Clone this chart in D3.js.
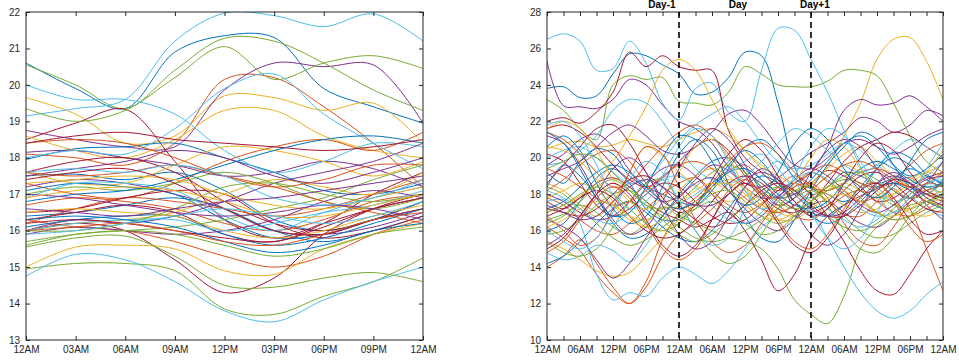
<!DOCTYPE html>
<html>
<head>
<meta charset="utf-8">
<script src="https://cdn.jsdelivr.net/npm/d3@7/dist/d3.min.js"></script>
<style>
  html, body { margin: 0; padding: 0; background: #fff; }
  svg { display: block; font-family: "Liberation Sans", Arial, sans-serif; }
  .tick text { fill: #262626; font-size: 10px; }
  .tick line { stroke: #262626; stroke-width: 1; }
  .domain { display: none; }
</style>
</head>
<body>
<svg id="chart" width="959" height="360"></svg>
<script>
// Line colours, assigned to series in turn
const palette = ["#0072BD", "#D95319", "#EDB120", "#7E2F8E", "#77AC30", "#4DBEEE", "#A2142F"];

// ---- Single day profiles (one value every 3 hours, 12AM to 12AM) ----
const dayHours = [0, 3, 6, 9, 12, 15, 18, 21, 24];
const dayTickLabels = ["12AM", "03AM", "06AM", "09AM", "12PM", "03PM", "06PM", "09PM", "12AM"];
const dayYTicks = [13, 14, 15, 16, 17, 18, 19, 20, 21, 22];
const dayProfiles = [
  [20.6, 19.9, 19.35, 20.9, 21.35, 21.3, 19.9, 19.4, 18.95],
  [18.1, 18.0, 17.8, 18.4, 20.15, 20.2, 19.4, 18.4, 17.2],
  [19.65, 19.2, 18.4, 18.6, 19.7, 19.65, 19.3, 19.5, 18.4],
  [18.75, 18.5, 18.3, 18.3, 19.86, 20.6, 20.5, 20.55, 18.95],
  [20.55, 20.0, 19.35, 20.4, 21.28, 21.2, 20.6, 19.86, 19.3],
  [19.15, 19.35, 19.6, 21.2, 21.97, 21.9, 21.6, 21.95, 21.2],
  [18.5, 18.95, 19.33, 17.9, 16.3, 15.8, 16.2, 16.6, 16.9],
  [17.95, 18.25, 18.3, 18.4, 18.0, 17.6, 17.1, 17.0, 17.3],
  [16.3, 16.1, 16.0, 15.7, 15.3, 15.0, 15.3, 15.9, 16.3],
  [18.6, 18.2, 18.0, 18.5, 19.3, 19.3, 18.6, 18.2, 18.0],
  [18.15, 18.2, 18.0, 17.8, 17.5, 17.6, 17.9, 17.7, 17.2],
  [19.35, 19.0, 19.3, 20.2, 21.05, 20.15, 20.6, 20.8, 20.45],
  [20.0, 19.6, 19.6, 19.2, 18.2, 17.6, 17.9, 18.4, 18.3],
  [16.0, 16.2, 16.0, 15.2, 14.3, 14.7, 15.9, 16.6, 17.0],
  [17.5, 17.55, 17.4, 17.6, 17.1, 16.3, 16.0, 16.3, 16.6],
  [17.3, 17.0, 16.9, 17.3, 17.9, 18.3, 18.5, 18.2, 18.7],
  [15.0, 15.55, 15.6, 15.5, 14.9, 14.8, 15.5, 15.9, 16.2],
  [17.2, 17.4, 17.3, 17.0, 16.6, 16.0, 15.9, 16.1, 16.5],
  [14.95, 15.1, 15.1, 14.9, 13.85, 13.7, 14.2, 14.6, 15.25],
  [14.75, 15.35, 15.2, 14.6, 13.8, 13.5, 14.1, 14.6, 15.0],
  [17.6, 17.9, 18.0, 17.6, 16.8, 16.2, 16.0, 16.3, 16.8],
  [16.4, 16.5, 16.7, 16.9, 16.6, 16.0, 15.7, 16.0, 16.4],
  [16.2, 16.6, 16.9, 16.8, 16.6, 16.4, 16.6, 17.0, 17.4],
  [17.6, 17.3, 17.3, 17.8, 18.3, 18.2, 17.9, 17.5, 17.9],
  [16.0, 16.3, 16.2, 16.4, 16.8, 17.3, 17.6, 17.9, 18.4],
  [15.55, 15.8, 15.85, 15.3, 14.5, 14.45, 14.7, 14.85, 14.6],
  [18.0, 18.2, 18.1, 18.8, 19.9, 20.3, 19.2, 18.4, 17.7],
  [16.3, 16.5, 16.7, 16.5, 15.9, 15.7, 16.2, 17.0, 17.6],
  [17.1, 17.3, 17.2, 17.0, 16.3, 15.8, 15.9, 16.3, 16.8],
  [16.7, 16.9, 16.8, 16.6, 16.2, 16.0, 16.3, 16.8, 17.0],
  [16.0, 16.2, 16.3, 16.5, 17.0, 17.4, 17.2, 17.0, 17.6],
  [17.5, 17.7, 17.9, 18.2, 18.0, 17.5, 17.3, 17.6, 18.0],
  [17.0, 17.2, 17.1, 17.3, 17.6, 17.3, 16.8, 16.6, 16.9],
  [16.9, 17.3, 17.3, 17.1, 16.4, 16.0, 16.5, 16.9, 17.2],
  [16.5, 16.6, 16.9, 17.1, 17.0, 16.2, 15.8, 16.0, 16.4],
  [16.1, 16.3, 16.4, 16.4, 15.9, 15.6, 15.8, 16.2, 16.6],
  [18.4, 18.5, 18.4, 18.0, 17.5, 17.2, 17.4, 17.8, 17.8],
  [16.5, 16.6, 16.5, 16.4, 16.0, 15.8, 16.0, 16.4, 16.7],
  [15.9, 16.1, 16.0, 15.9, 16.0, 16.3, 16.8, 17.1, 16.9],
  [15.6, 15.9, 16.0, 16.1, 16.3, 16.6, 16.9, 17.4, 17.8],
  [16.0, 16.2, 16.3, 16.3, 16.0, 16.2, 16.5, 16.7, 17.1],
  [16.2, 16.3, 16.2, 16.0, 15.8, 15.7, 16.1, 16.6, 16.9],
  [16.8, 17.0, 17.1, 17.4, 17.8, 18.2, 18.5, 18.6, 18.4],
  [17.6, 17.5, 17.6, 17.8, 17.5, 17.2, 16.8, 16.5, 16.2],
  [17.3, 17.4, 17.5, 17.4, 17.0, 16.7, 16.6, 16.9, 17.2],
  [17.0, 16.9, 16.7, 16.5, 16.4, 16.5, 16.7, 16.6, 16.3],
  [16.0, 16.0, 16.2, 16.6, 17.2, 17.3, 17.0, 16.8, 17.0],
  [17.6, 17.7, 17.6, 17.8, 17.5, 16.9, 16.7, 16.9, 17.4],
  [17.4, 17.6, 17.7, 17.3, 16.6, 16.0, 15.9, 16.3, 16.6],
  [16.3, 16.4, 16.3, 16.1, 15.7, 15.4, 15.6, 16.0, 16.2],
  [16.0, 16.1, 16.2, 16.0, 15.7, 15.6, 15.9, 16.3, 16.5],
  [16.9, 17.1, 17.2, 17.1, 16.8, 16.4, 16.4, 16.7, 17.0],
  [16.6, 16.5, 16.4, 16.6, 16.8, 16.9, 17.1, 17.3, 17.5],
  [15.7, 15.9, 16.0, 15.9, 15.6, 15.3, 15.5, 15.9, 16.1],
  [15.9, 16.0, 16.2, 16.4, 16.6, 16.4, 16.2, 16.4, 16.8],
  [18.4, 18.6, 18.7, 18.5, 18.4, 18.3, 18.2, 18.3, 18.5]
];

// ---- Three day profiles (one value every 3 hours over 72 hours) ----
const spanHours = d3.range(0, 73, 3);
const spanTickLabels = ["12AM", "06AM", "12PM", "06PM", "12AM", "06AM", "12PM", "06PM", "12AM", "06AM", "12PM", "06PM", "12AM"];
const spanYTicks = [10, 12, 14, 16, 18, 20, 22, 24, 26, 28];
const dayBoundaries = [24, 48];
const dayNames = ["Day-1", "Day", "Day+1"];
const dayNameHours = [20.9, 34.7, 48.7];
const spanProfiles = [
  [23.8, 23.9, 23.3, 23.4, 24.6, 25.7, 25.6, 25.1, 24.6, 23.5, 23.6, 24.4, 25.8, 25.6, 23.0, 19.5, 18.0, 18.4, 19.2, 19.0, 18.6, 18.9, 19.4, 19.0, 18.6],
  [16.2, 15.6, 14.9, 13.6, 12.6, 12.0, 13.2, 15.5, 17.0, 17.8, 18.6, 19.3, 19.6, 18.8, 18.2, 18.6, 19.2, 18.7, 18.0, 17.6, 17.9, 18.6, 18.9, 18.2, 17.8],
  [18.6, 18.2, 17.4, 16.8, 17.6, 19.2, 20.6, 20.1, 19.2, 18.5, 18.0, 17.6, 17.9, 18.4, 18.7, 18.2, 18.5, 19.5, 21.2, 23.0, 25.4, 26.5, 26.6, 25.3, 23.2],
  [25.3, 22.85, 22.8, 22.7, 23.2, 24.3, 24.0, 22.9, 22.0, 21.6, 20.8, 19.5, 18.6, 18.4, 18.9, 19.6, 20.3, 20.8, 21.4, 22.2, 22.0, 21.4, 21.8, 22.6, 22.3],
  [23.2, 22.6, 21.6, 21.0, 24.0, 24.5, 24.3, 24.4, 23.1, 23.0, 22.9, 23.6, 25.0, 24.6, 24.0, 23.9, 23.9, 24.2, 24.8, 24.8, 24.5, 23.0, 21.2, 19.8, 19.2],
  [26.5, 26.8, 26.4, 24.8, 24.9, 26.4, 25.2, 23.0, 22.1, 23.8, 24.1, 22.5, 22.0, 24.8, 27.1, 27.0, 25.4, 23.6, 21.5, 19.5, 18.0, 17.0, 17.8, 18.5, 19.0],
  [22.0, 22.2, 21.9, 22.5, 23.6, 25.8, 25.0, 25.6, 25.0, 24.8, 24.8, 21.5, 20.0, 19.2, 18.4, 18.0, 18.6, 19.3, 19.0, 18.4, 17.6, 17.8, 18.4, 18.9, 19.2],
  [19.2, 18.6, 19.8, 20.5, 20.2, 19.0, 18.4, 18.0, 17.6, 17.4, 18.2, 19.4, 20.6, 21.0, 20.2, 18.9, 18.3, 18.0, 17.6, 18.2, 19.4, 20.3, 20.0, 19.1, 18.5],
  [17.8, 17.4, 16.6, 16.0, 15.8, 16.4, 17.2, 18.0, 18.6, 18.9, 18.2, 17.4, 17.0, 17.5, 18.4, 19.0, 18.5, 17.6, 16.9, 16.8, 17.6, 18.3, 17.2, 15.0, 12.7],
  [20.5, 20.8, 20.9, 20.6, 20.7, 21.0, 20.8, 20.6, 21.0, 21.4, 21.6, 21.2, 20.4, 19.4, 18.6, 18.2, 18.6, 19.4, 20.2, 20.6, 19.8, 19.0, 18.4, 18.2, 18.6],
  [19.6, 20.2, 21.0, 21.3, 20.6, 19.3, 18.2, 17.6, 17.9, 18.8, 19.6, 19.3, 18.4, 17.8, 17.9, 18.6, 19.2, 20.6, 22.6, 23.2, 22.9, 23.0, 23.4, 22.8, 22.0],
  [16.6, 16.9, 17.4, 17.0, 16.2, 15.8, 16.4, 17.3, 16.8, 16.4, 16.0, 15.6, 15.4, 15.0, 13.9, 12.2, 11.4, 10.9, 12.4, 15.0, 16.2, 16.8, 17.4, 17.6, 18.0],
  [14.8, 14.4, 14.6, 15.2, 14.9, 14.3, 15.2, 16.6, 17.4, 18.0, 18.6, 19.2, 19.8, 20.2, 19.4, 18.2, 17.2, 15.6, 14.0, 12.6, 11.6, 11.2, 11.6, 12.5, 13.2],
  [17.6, 17.2, 17.8, 18.6, 18.9, 18.4, 17.6, 17.0, 16.6, 16.2, 16.6, 17.0, 16.0, 14.4, 12.7, 13.6, 15.6, 16.8, 17.4, 17.9, 18.3, 18.6, 18.4, 18.0, 17.8],
  [16.0, 16.4, 17.6, 18.9, 19.4, 18.6, 17.2, 16.6, 16.6, 17.4, 18.4, 19.6, 20.4, 19.8, 18.6, 17.6, 17.0, 16.8, 17.4, 18.4, 19.4, 20.0, 19.6, 18.8, 18.4],
  [14.0, 14.6, 15.5, 14.2, 12.9, 12.0, 12.9, 14.6, 15.8, 16.4, 17.2, 18.0, 18.6, 18.2, 17.4, 16.8, 16.6, 17.2, 17.9, 18.2, 17.6, 17.0, 16.8, 17.2, 17.6],
  [15.4, 15.0, 14.4, 13.8, 13.5, 13.7, 14.6, 15.6, 16.4, 17.4, 18.4, 18.8, 18.4, 17.6, 17.0, 16.8, 17.4, 18.2, 18.6, 18.2, 17.8, 18.0, 18.6, 19.2, 19.6],
  [16.6, 16.2, 15.6, 14.4, 13.4, 14.2, 15.6, 16.8, 17.8, 18.6, 18.9, 18.2, 17.2, 16.4, 16.0, 16.6, 17.4, 17.6, 17.0, 16.4, 16.2, 16.8, 17.6, 18.2, 18.5],
  [18.4, 18.0, 17.2, 16.4, 15.6, 15.2, 15.5, 16.2, 16.8, 17.2, 17.6, 17.2, 16.4, 15.8, 16.0, 16.8, 17.6, 18.4, 18.8, 18.6, 18.0, 17.4, 17.2, 17.6, 18.0],
  [17.6, 17.7, 16.4, 13.6, 12.2, 12.6, 12.4, 13.4, 14.0, 13.6, 13.1, 13.8, 15.0, 16.2, 16.8, 17.4, 17.8, 17.2, 16.6, 16.2, 16.6, 17.4, 17.8, 17.2, 16.8],
  [20.2, 19.8, 18.6, 17.4, 16.8, 17.2, 18.0, 18.6, 18.4, 17.6, 16.8, 16.4, 16.6, 17.4, 18.2, 18.6, 18.0, 16.8, 15.4, 13.8, 12.7, 12.5, 13.6, 15.0, 16.0],
  [18.4, 19.6, 19.0, 17.8, 16.4, 15.6, 15.8, 16.8, 18.0, 19.0, 19.8, 20.0, 19.4, 18.4, 17.8, 18.0, 18.8, 19.8, 20.8, 21.2, 20.6, 19.6, 19.0, 19.4, 20.2],
  [21.4, 21.0, 20.2, 19.2, 18.4, 18.6, 19.6, 20.6, 21.4, 21.8, 21.2, 20.2, 19.0, 18.0, 17.8, 18.4, 19.2, 19.6, 19.2, 18.6, 18.4, 18.8, 19.6, 20.4, 20.8],
  [17.0, 17.4, 17.9, 18.6, 19.8, 21.2, 22.8, 24.8, 25.4, 24.8, 23.2, 21.6, 20.4, 19.6, 19.0, 18.6, 18.4, 18.0, 17.4, 17.0, 17.2, 18.0, 18.8, 19.2, 19.0],
  [19.0, 19.4, 19.8, 20.6, 21.4, 21.8, 21.2, 20.4, 20.2, 20.6, 21.4, 22.4, 22.6, 21.8, 20.6, 19.6, 19.4, 20.0, 20.8, 21.0, 20.6, 20.2, 20.6, 21.2, 21.6],
  [16.4, 16.8, 17.6, 18.4, 18.8, 18.2, 17.4, 16.8, 16.2, 15.6, 15.4, 15.6, 16.0, 16.6, 17.2, 17.8, 18.2, 17.6, 16.8, 16.0, 15.6, 15.8, 16.4, 17.0, 17.4],
  [20.0, 20.4, 20.6, 20.0, 19.2, 18.6, 18.8, 19.8, 21.0, 21.8, 22.4, 22.8, 22.0, 20.8, 19.8, 19.4, 19.6, 20.2, 20.8, 20.4, 19.6, 19.0, 18.6, 19.0, 19.8],
  [21.6, 21.8, 21.4, 20.6, 19.6, 18.8, 18.4, 18.9, 19.8, 20.6, 21.0, 20.4, 19.2, 18.0, 17.2, 17.0, 17.6, 18.6, 19.8, 20.6, 21.0, 21.4, 21.2, 20.6, 20.0],
  [14.2, 14.6, 15.4, 16.4, 17.2, 17.6, 17.0, 16.2, 15.6, 15.4, 16.0, 17.2, 18.4, 19.0, 18.6, 17.6, 16.8, 16.4, 16.8, 17.6, 18.4, 18.6, 18.2, 17.6, 17.2],
  [18.2, 18.8, 19.6, 20.2, 20.4, 19.8, 18.6, 17.6, 17.2, 17.6, 18.6, 19.8, 20.6, 20.8, 20.2, 19.2, 18.4, 18.2, 18.6, 19.2, 19.4, 19.0, 18.2, 17.6, 17.4],
  [20.6, 20.4, 19.8, 18.8, 17.6, 16.8, 16.6, 17.2, 18.2, 19.0, 19.4, 19.0, 18.2, 17.4, 17.0, 17.4, 18.2, 19.0, 19.6, 19.2, 18.4, 17.6, 17.0, 16.8, 17.2],
  [18.0, 17.6, 17.0, 16.6, 16.8, 17.6, 18.6, 19.4, 19.6, 19.0, 18.0, 17.0, 16.4, 16.8, 17.8, 18.8, 19.4, 19.0, 18.2, 17.4, 17.0, 17.4, 18.2, 18.8, 19.0],
  [15.8, 16.0, 16.6, 17.4, 18.0, 18.2, 17.6, 16.6, 15.8, 15.4, 15.8, 16.6, 17.4, 18.0, 18.4, 18.2, 17.6, 16.8, 16.2, 16.0, 16.4, 17.2, 18.0, 18.4, 18.0],
  [19.6, 19.8, 20.4, 21.2, 22.6, 23.2, 23.0, 22.0, 20.6, 19.4, 18.8, 18.6, 19.0, 19.8, 20.8, 21.6, 21.2, 20.4, 19.6, 19.2, 19.6, 20.4, 21.0, 20.6, 20.0],
  [16.8, 17.2, 17.8, 18.2, 17.8, 16.8, 16.0, 15.6, 15.8, 16.6, 17.6, 18.6, 19.0, 18.6, 17.8, 17.2, 17.0, 17.4, 18.2, 19.0, 19.2, 18.6, 17.8, 17.2, 17.0],
  [20.6, 21.2, 20.4, 18.6, 17.2, 16.4, 16.8, 18.4, 20.2, 21.0, 20.4, 18.6, 16.8, 15.6, 15.4, 16.6, 18.2, 19.6, 20.6, 21.4, 21.0, 19.6, 18.4, 18.0, 18.8],
  [16.8, 16.0, 15.2, 15.6, 17.2, 19.2, 20.6, 20.2, 18.4, 16.6, 15.4, 14.8, 15.2, 16.4, 17.6, 18.4, 18.6, 17.8, 16.4, 15.4, 15.2, 16.2, 17.6, 18.6, 18.4],
  [17.8, 18.2, 18.6, 18.2, 17.4, 16.6, 16.2, 16.6, 17.4, 18.2, 18.6, 18.2, 17.4, 16.8, 16.6, 17.0, 17.8, 18.4, 18.2, 17.6, 17.0, 16.8, 17.2, 17.8, 18.2],
  [21.2, 20.8, 19.6, 18.0, 16.6, 15.8, 16.2, 17.6, 19.4, 20.8, 21.6, 21.0, 19.6, 18.2, 17.4, 17.8, 19.2, 20.4, 21.0, 20.6, 19.4, 18.2, 17.8, 18.6, 19.8],
  [15.4, 14.8, 14.6, 15.0, 16.2, 17.6, 18.6, 18.8, 17.6, 16.0, 14.8, 14.2, 14.6, 15.8, 17.2, 18.2, 18.4, 17.4, 16.0, 15.0, 14.8, 15.6, 16.8, 17.6, 17.2],
  [18.2, 17.8, 17.2, 16.6, 16.4, 17.0, 18.0, 18.8, 19.0, 18.4, 17.4, 16.6, 16.4, 17.0, 18.0, 18.8, 19.2, 18.8, 18.0, 17.2, 16.8, 17.0, 17.8, 18.6, 18.8],
  [18.6, 19.6, 20.6, 21.6, 21.8, 20.8, 19.2, 17.8, 17.0, 17.4, 18.8, 20.2, 21.0, 20.4, 19.0, 17.6, 16.8, 17.2, 18.6, 20.0, 20.8, 20.4, 19.2, 18.2, 17.8],
  [17.2, 17.6, 18.4, 19.2, 19.6, 19.2, 18.4, 17.6, 17.2, 17.6, 18.4, 19.2, 19.4, 18.8, 18.0, 17.4, 17.2, 17.6, 18.6, 19.4, 19.8, 19.4, 18.8, 18.4, 18.6],
  [19.4, 19.0, 18.4, 17.8, 17.4, 17.6, 18.2, 19.0, 19.6, 19.8, 19.4, 18.6, 17.8, 17.2, 17.0, 17.4, 18.2, 19.0, 19.6, 19.8, 19.4, 18.8, 18.4, 18.6, 19.2],
  [21.6, 22.0, 21.6, 20.4, 18.8, 17.6, 17.2, 17.8, 19.2, 20.6, 21.0, 20.0, 18.4, 17.4, 17.4, 18.6, 20.0, 21.0, 20.6, 19.4, 18.2, 17.6, 18.0, 19.2, 20.4],
  [15.2, 15.8, 16.8, 18.0, 19.4, 20.0, 19.2, 17.4, 15.8, 15.0, 15.4, 16.8, 18.4, 19.4, 18.8, 17.2, 15.8, 15.2, 15.8, 17.2, 18.6, 19.2, 18.6, 17.4, 16.6],
  [19.4, 19.8, 20.2, 20.0, 19.2, 18.2, 17.4, 17.2, 17.6, 18.4, 19.2, 19.6, 19.2, 18.4, 17.6, 17.2, 17.6, 18.4, 19.0, 19.2, 18.8, 18.2, 17.8, 18.0, 18.6],
  [16.0, 15.4, 15.0, 15.6, 17.0, 18.8, 19.8, 19.2, 17.6, 16.0, 15.2, 15.6, 17.2, 19.0, 19.8, 18.8, 17.0, 15.6, 15.0, 15.6, 17.0, 18.6, 19.4, 18.8, 17.6],
  [17.2, 17.0, 16.8, 17.2, 18.0, 18.8, 19.0, 18.4, 17.4, 16.6, 16.2, 16.6, 17.4, 18.2, 18.6, 18.2, 17.4, 16.8, 16.8, 17.4, 18.2, 18.8, 18.6, 18.0, 17.6],
  [21.4, 20.8, 19.4, 17.8, 16.8, 17.0, 18.4, 20.0, 21.2, 21.0, 19.8, 18.2, 17.4, 17.8, 19.2, 20.8, 21.6, 21.0, 19.4, 18.2, 17.8, 18.4, 19.8, 21.0, 21.4],
  [14.8, 15.4, 16.6, 17.8, 18.4, 17.8, 16.4, 15.0, 14.4, 15.0, 16.6, 18.2, 18.8, 18.0, 16.6, 15.4, 15.0, 15.8, 17.2, 18.4, 18.6, 17.6, 16.2, 15.4, 15.8],
  [16.2, 16.6, 17.2, 17.6, 17.4, 16.8, 16.2, 16.0, 16.6, 17.6, 18.4, 18.6, 18.0, 17.2, 16.6, 16.6, 17.2, 17.8, 18.0, 17.6, 17.0, 16.6, 16.8, 17.4, 17.8],
  [17.4, 17.0, 16.6, 16.8, 17.6, 18.4, 18.8, 18.4, 17.8, 17.4, 17.4, 18.0, 18.8, 19.2, 18.8, 18.0, 17.2, 16.8, 17.0, 17.8, 18.6, 19.0, 18.6, 17.8, 17.4],
  [17.0, 17.4, 18.0, 18.4, 18.0, 17.2, 16.4, 16.0, 16.4, 17.2, 18.0, 18.2, 17.6, 16.8, 16.4, 16.8, 17.6, 18.2, 18.4, 17.8, 17.0, 16.6, 16.8, 17.4, 18.0],
  [21.8, 22.0, 21.2, 19.6, 18.0, 17.2, 17.6, 19.0, 20.6, 21.6, 21.2, 19.8, 18.2, 17.2, 17.6, 19.0, 20.6, 21.6, 21.2, 19.8, 18.4, 17.6, 18.0, 19.4, 20.8],
  [15.0, 15.6, 16.8, 18.0, 18.6, 18.0, 16.6, 15.2, 14.6, 15.2, 16.6, 18.0, 18.6, 17.8, 16.4, 15.2, 14.8, 15.6, 17.0, 18.2, 18.6, 17.8, 16.6, 15.8, 16.0]
];

const svg = d3.select("#chart");
const axisColor = "#262626";

function drawPanel(opts) {
  const { left, right, top, bottom, hours, profiles, xDomain, xTickHours, xLabelHours, xLabels, yDomain, yTicks, id } = opts;
  const x = d3.scaleLinear().domain(xDomain).range([left, right]);
  const y = d3.scaleLinear().domain(yDomain).range([bottom, top]);
  const g = svg.append("g");

  g.append("clipPath").attr("id", id).append("rect")
    .attr("x", left).attr("y", top).attr("width", right - left).attr("height", bottom - top);

  const line = d3.line()
    .x((d, i) => x(hours[i]))
    .y(d => y(d))
    .curve(d3.curveCatmullRom.alpha(0.5));

  g.append("g").attr("clip-path", `url(#${id})`)
    .selectAll("path").data(profiles).join("path")
    .attr("d", line)
    .attr("fill", "none")
    .attr("stroke", (d, i) => palette[i % palette.length])
    .attr("stroke-width", 1);

  const labelMap = new Map(xLabelHours.map((h, i) => [h, xLabels[i]]));

  // bottom axis: inward ticks, labels only where given
  g.append("g").attr("transform", `translate(0,${bottom})`)
    .call(d3.axisBottom(x).tickValues(xTickHours).tickSizeInner(-4).tickSizeOuter(0).tickPadding(6)
      .tickFormat(h => labelMap.get(h) || ""));
  // top axis: ticks only
  g.append("g").attr("transform", `translate(0,${top})`)
    .call(d3.axisTop(x).tickValues(xTickHours).tickSizeInner(-4).tickSizeOuter(0).tickFormat(""));
  // left axis
  g.append("g").attr("transform", `translate(${left},0)`)
    .call(d3.axisLeft(y).tickValues(yTicks).tickSizeInner(-4).tickSizeOuter(0).tickPadding(6)
      .tickFormat(d3.format("d")));
  // right axis: ticks only
  g.append("g").attr("transform", `translate(${right},0)`)
    .call(d3.axisRight(y).tickValues(yTicks).tickSizeInner(-4).tickSizeOuter(0).tickFormat(""));

  // frame
  g.append("rect")
    .attr("x", left).attr("y", top).attr("width", right - left).attr("height", bottom - top)
    .attr("fill", "none").attr("stroke", axisColor).attr("stroke-width", 1);

  return { x, y, g };
}

// single day panel
drawPanel({
  id: "clipDay", left: 26, right: 423, top: 12, bottom: 340,
  hours: dayHours, profiles: dayProfiles, xDomain: [0, 24],
  xTickHours: dayHours, xLabelHours: dayHours, xLabels: dayTickLabels,
  yDomain: [13, 22], yTicks: dayYTicks
});

// three day panel
const span = drawPanel({
  id: "clipSpan", left: 547, right: 943, top: 12, bottom: 340,
  hours: spanHours, profiles: spanProfiles, xDomain: [0, 72],
  xTickHours: spanHours, xLabelHours: d3.range(0, 73, 6), xLabels: spanTickLabels,
  yDomain: [10, 28], yTicks: spanYTicks
});

// day boundaries
span.g.selectAll("line.boundary").data(dayBoundaries).join("line")
  .attr("class", "boundary")
  .attr("x1", d => span.x(d)).attr("x2", d => span.x(d))
  .attr("y1", 12).attr("y2", 340)
  .attr("stroke", "#000").attr("stroke-width", 1.6)
  .attr("stroke-dasharray", "6,4");

// day names above the frame
span.g.selectAll("text.dayname").data(dayNames).join("text")
  .attr("class", "dayname")
  .attr("x", (d, i) => span.x(dayNameHours[i]))
  .attr("y", 8)
  .attr("text-anchor", "middle")
  .attr("font-size", 10)
  .attr("font-weight", "bold")
  .attr("fill", "#000")
  .text(d => d);
</script>
</body>
</html>
